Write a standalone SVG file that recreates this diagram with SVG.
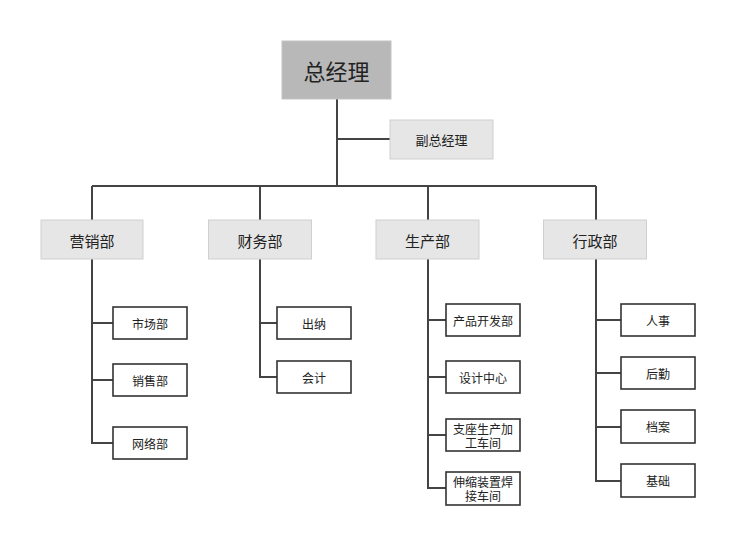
<svg xmlns="http://www.w3.org/2000/svg" width="748" height="557" viewBox="0 0 748 557">
<style>
text{font-family:"Noto Sans CJK SC","Liberation Sans",sans-serif;fill:#222;text-anchor:middle;dominant-baseline:central}
.top{fill:#b8b8b8;stroke:#c4c4c4;stroke-width:1}
.dept{fill:#e6e6e6;stroke:#cfcfcf;stroke-width:1}
.leaf{fill:#fff;stroke:#333;stroke-width:1.6}
.t1{font-size:22px}
.t2{font-size:15px}
.t3{font-size:12px}
.ln{fill:none;stroke:#444;stroke-width:2}
</style>
<rect width="748" height="557" fill="#fff"/>
<g id="connectors">
<path class="ln" d="M337 99V186M337 139H390M92 186H596M92 186V220M260 186V220M428 186V220M596 186V220"/>
<path class="ln" d="M92 259V443H113M92 323H113M92 380H113"/>
<path class="ln" d="M260 259V377H277M260 323H277"/>
<path class="ln" d="M428 259V488H446M428 320H446M428 377H446M428 435H446"/>
<path class="ln" d="M596 259V481H621M596 320H621M596 373H621M596 427H621"/>
</g>
<g id="n-zjl"><rect class="top" x="282" y="41" width="109" height="58"/><text class="t1" x="336.5" y="70">总经理</text></g>
<g id="n-fzjl"><rect class="dept" x="390" y="120" width="103" height="39"/><text class="t3" x="441.5" y="139.5" style="font-size:13px">副总经理</text></g>
<g id="n-yxb"><rect class="dept" x="41" y="220" width="102" height="39"/><text class="t2" x="92" y="240">营销部</text></g>
<g id="n-cwb"><rect class="dept" x="208.5" y="220" width="103" height="39"/><text class="t2" x="260" y="240">财务部</text></g>
<g id="n-scb"><rect class="dept" x="376" y="220" width="103" height="39"/><text class="t2" x="427.5" y="240">生产部</text></g>
<g id="n-xzb"><rect class="dept" x="543.5" y="220" width="103" height="39"/><text class="t2" x="595" y="240">行政部</text></g>
<g id="n-scbu"><rect class="leaf" x="113" y="307" width="74" height="32"/><text class="t3" x="150" y="323">市场部</text></g>
<g id="n-xsb"><rect class="leaf" x="113" y="364" width="74" height="32"/><text class="t3" x="150" y="380">销售部</text></g>
<g id="n-wlb"><rect class="leaf" x="113" y="427" width="74" height="32"/><text class="t3" x="150" y="443">网络部</text></g>
<g id="n-cn"><rect class="leaf" x="277" y="307" width="74" height="32"/><text class="t3" x="314" y="323">出纳</text></g>
<g id="n-kj"><rect class="leaf" x="277" y="361" width="74" height="32"/><text class="t3" x="314" y="377">会计</text></g>
<g id="n-cpkfb"><rect class="leaf" x="446" y="304" width="74" height="32"/><text class="t3" x="483" y="320">产品开发部</text></g>
<g id="n-sjzx"><rect class="leaf" x="446" y="361" width="74" height="32"/><text class="t3" x="483" y="377">设计中心</text></g>
<g id="n-zzsc"><rect class="leaf" x="446" y="419" width="74" height="32"/><text class="t3" x="483" y="428.5">支座生产加</text><text class="t3" x="483" y="442.5">工车间</text></g>
<g id="n-ssjz"><rect class="leaf" x="446" y="472" width="74" height="33"/><text class="t3" x="483" y="481.5">伸缩装置焊</text><text class="t3" x="483" y="495.5">接车间</text></g>
<g id="n-rs"><rect class="leaf" x="621" y="304" width="74" height="32"/><text class="t3" x="658" y="320">人事</text></g>
<g id="n-hq"><rect class="leaf" x="621" y="357" width="74" height="32"/><text class="t3" x="658" y="373">后勤</text></g>
<g id="n-da"><rect class="leaf" x="621" y="410" width="74" height="33"/><text class="t3" x="658" y="426.5">档案</text></g>
<g id="n-jc"><rect class="leaf" x="621" y="464" width="74" height="33"/><text class="t3" x="658" y="480.5">基础</text></g>
</svg>
